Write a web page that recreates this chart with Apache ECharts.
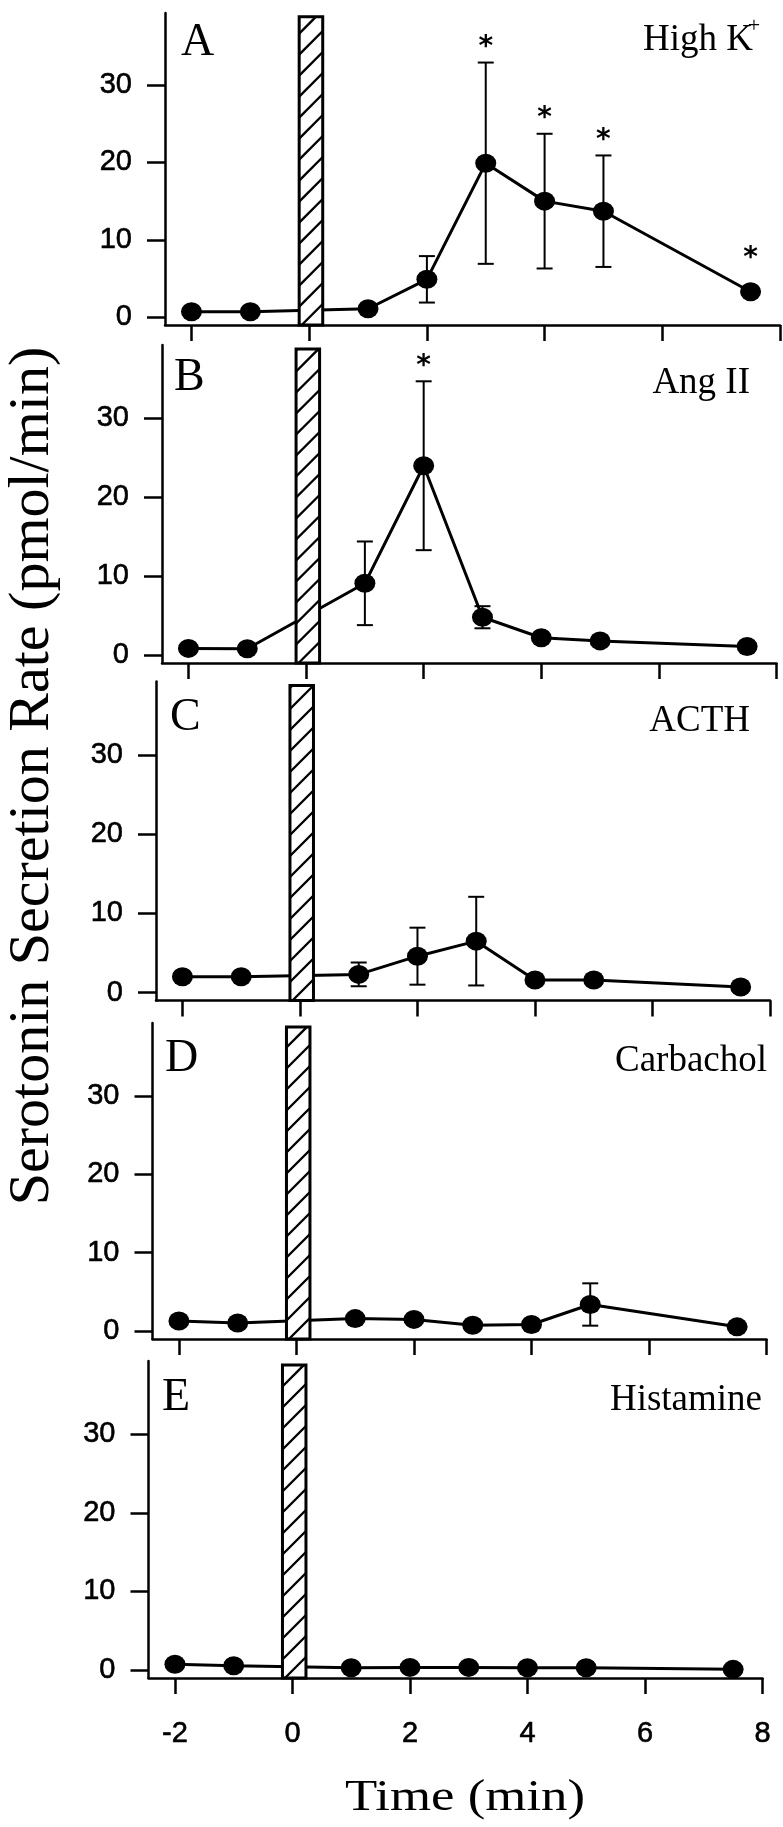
<!DOCTYPE html>
<html>
<head>
<meta charset="utf-8">
<script src="https://cdn.jsdelivr.net/npm/echarts@6/dist/echarts.min.js"></script>
<style>
  html, body { margin: 0; padding: 0; background: #fff; }
  #main { width: 783px; height: 1827px; }
</style>
</head>
<body>
<div id="main"></div>
<script>
// sampling times (min)
var times = [-2, -1, 1, 2, 3, 4, 5, 7.5];

// stimulus pulse, drawn as the hatched bar
var pulseSpan = [-0.17, 0.23];
var pulseTop = 38.8;

// serotonin secretion rate (pmol/min), mean and SE
var highKMean = [0.7, 0.7, 1.1, 4.9, 19.9, 15.0, 13.7, 3.3];
var highKErr  = [0, 0, 0, 3.0, 13.0, 8.7, 7.2, 0];
var highKSig  = [0, 0, 0, 0, 1, 1, 1, 1];

var angMean = [0.85, 0.8, 9.1, 24.0, 4.8, 2.2, 1.8, 1.1];
var angErr  = [0, 0, 5.3, 10.7, 1.4, 0, 0, 0];
var angSig  = [0, 0, 0, 1, 0, 0, 0, 0];

var acthMean = [2.0, 2.0, 2.3, 4.6, 6.5, 1.6, 1.6, 0.7];
var acthErr  = [0, 0, 1.5, 3.6, 5.6, 0, 0, 0];
var acthSig  = [0, 0, 0, 0, 0, 0, 0, 0];

var carbMean = [1.3, 1.05, 1.6, 1.5, 0.75, 0.85, 3.4, 0.55];
var carbErr  = [0, 0, 0, 0, 0, 0, 2.7, 0];
var carbSig  = [0, 0, 0, 0, 0, 0, 0, 0];

var histMean = [0.75, 0.55, 0.3, 0.35, 0.35, 0.3, 0.3, 0.1];
var histErr  = [0, 0, 0, 0, 0, 0, 0, 0];
var histSig  = [0, 0, 0, 0, 0, 0, 0, 0];

var panelLetters = ['A', 'B', 'C', 'D', 'E'];
var panelNames = ['High K', 'Ang II', 'ACTH', 'Carbachol', 'Histamine'];
var panelSup = ['+', '', '', '', ''];

var yTicks = [0, 10, 20, 30];
var xTicks = [-2, 0, 2, 4, 6, 8];

var panels = [
  { mean: highKMean, err: highKErr, sig: highKSig },
  { mean: angMean, err: angErr, sig: angSig },
  { mean: acthMean, err: acthErr, sig: acthSig },
  { mean: carbMean, err: carbErr, sig: carbSig },
  { mean: histMean, err: histErr, sig: histSig }
];

// plot frames in px (the scanned figure is a little skewed)
var frames = [
  { left: 165, top: 13, width: 615, height: 312 },
  { left: 162, top: 345, width: 614.5, height: 318 },
  { left: 156, top: 681.5, width: 614, height: 319 },
  { left: 152.5, top: 1023, width: 614, height: 316 },
  { left: 148.5, top: 1361, width: 614, height: 317 }
];
var letterPos = [[181, 43], [174, 378], [170, 718], [165, 1059], [162, 1398]];
var namePos = [[753, 40], [750, 383], [750, 721], [767, 1061], [762, 1400]];

var yMin = -1, yMax = 39.3, xMin = -2.45, xMax = 8;
var black = '#000';

var myChart = echarts.init(document.getElementById('main'));

function renderPulse(params, api) {
  var a = api.coord([api.value(0), api.value(2)]);
  var b = api.coord([api.value(1), yMin]);
  var x0 = a[0], x1 = b[0], yt = a[1], yb = b[1];
  var w = x1 - x0, step = 21;
  var children = [{
    type: 'rect',
    shape: { x: x0, y: yt, width: w, height: yb - yt },
    style: { fill: '#fff', stroke: black, lineWidth: 3 }
  }];
  // 45 degree hatching, clipped by hand to the bar
  for (var c = yb + w; c > yt; c -= step) {
    var xa = x0, ya = c, xb = x1, yb2 = c - w;
    if (ya > yb) { xa = x0 + (ya - yb); ya = yb; }
    if (yb2 < yt) { xb = x1 - (yt - yb2); yb2 = yt; }
    if (xb - xa < 1) continue;
    children.push({
      type: 'line',
      shape: { x1: xa, y1: ya, x2: xb, y2: yb2 },
      style: { stroke: black, lineWidth: 2.4 }
    });
  }
  return { type: 'group', children: children };
}

function renderErr(params, api) {
  var t = api.value(0), m = api.value(1), e = api.value(2);
  var hi = api.coord([t, m + e]);
  var lo = api.coord([t, m - e]);
  var hw = 8;
  var st = { stroke: black, lineWidth: 2 };
  return {
    type: 'group',
    children: [
      { type: 'line', shape: { x1: hi[0], y1: hi[1], x2: lo[0], y2: lo[1] }, style: st },
      { type: 'line', shape: { x1: hi[0] - hw, y1: hi[1], x2: hi[0] + hw, y2: hi[1] }, style: st },
      { type: 'line', shape: { x1: lo[0] - hw, y1: lo[1], x2: lo[0] + hw, y2: lo[1] }, style: st }
    ]
  };
}

function renderStar(params, api) {
  // star sits above the error cap, or above the marker if there is no bar
  var top = api.coord([api.value(0), api.value(1)]);
  var mid = api.coord([api.value(0), api.value(2)]);
  var y = Math.min(top[1], mid[1] - 18);
  return {
    type: 'text',
    x: top[0],
    y: y - 15,
    style: {
      text: '*',
      fontFamily: 'DejaVu Sans',
      fontWeight: 'bold',
      fontSize: 28,
      fill: black,
      align: 'center',
      verticalAlign: 'middle'
    }
  };
}

var tickFont = {
  fontFamily: 'Liberation Sans', fontSize: 29, color: black,
  textBorderColor: black, textBorderWidth: 0.6
};

var grids = [], xAxes = [], yAxes = [], series = [], graphics = [];

panels.forEach(function (pn, i) {
  var f = frames[i];
  grids.push({
    left: f.left, top: f.top, width: f.width, height: f.height,
    outerBoundsMode: 'none'
  });

  xAxes.push({
    type: 'value', gridIndex: i, min: xMin, max: xMax,
    axisLine: { show: true, onZero: false, lineStyle: { color: black, width: 2.5 } },
    axisTick: { show: true, length: 16, customValues: xTicks, lineStyle: { color: black, width: 2.5 } },
    axisLabel: Object.assign({
      show: i === panels.length - 1, customValues: xTicks, margin: 41
    }, tickFont),
    splitLine: { show: false }
  });

  yAxes.push({
    type: 'value', gridIndex: i, min: yMin, max: yMax,
    axisLine: { show: true, onZero: false, lineStyle: { color: black, width: 2.5 } },
    axisTick: { show: true, length: 18, customValues: yTicks, lineStyle: { color: black, width: 2.5 } },
    axisLabel: Object.assign({ customValues: yTicks, margin: 33 }, tickFont),
    splitLine: { show: false }
  });

  var pts = times.map(function (t, k) { return [t, pn.mean[k]]; });
  var errs = [], stars = [];
  times.forEach(function (t, k) {
    if (pn.err[k] > 0) errs.push([t, pn.mean[k], pn.err[k]]);
    if (pn.sig[k]) stars.push([t, pn.mean[k] + pn.err[k], pn.mean[k]]);
  });

  series.push({
    type: 'custom', xAxisIndex: i, yAxisIndex: i, z: 1,
    renderItem: renderErr, data: errs,
    encode: { x: 0, y: [1, 2] }
  });
  series.push({
    type: 'line', xAxisIndex: i, yAxisIndex: i, z: 2,
    data: pts,
    symbol: 'circle', symbolSize: [21, 19],
    lineStyle: { color: black, width: 3 },
    itemStyle: { color: black }
  });
  series.push({
    type: 'custom', xAxisIndex: i, yAxisIndex: i, z: 4,
    renderItem: renderPulse,
    data: [[pulseSpan[0], pulseSpan[1], pulseTop]],
    encode: { x: [0, 1], y: 2 }
  });
  series.push({
    type: 'custom', xAxisIndex: i, yAxisIndex: i, z: 3,
    renderItem: renderStar, data: stars,
    encode: { x: 0, y: [1, 2] }
  });

  graphics.push({
    type: 'text', x: letterPos[i][0], y: letterPos[i][1],
    style: {
      text: panelLetters[i], fontFamily: 'Liberation Serif', fontSize: 46,
      fill: black, align: 'left', verticalAlign: 'middle'
    }
  });
  graphics.push({
    type: 'text', x: namePos[i][0], y: namePos[i][1],
    style: {
      text: panelNames[i], fontFamily: 'Liberation Serif', fontSize: 37,
      fill: black, align: 'right', verticalAlign: 'middle'
    }
  });
  if (panelSup[i]) {
    graphics.push({
      type: 'text', x: namePos[i][0] + 1, y: namePos[i][1] - 14,
      style: {
        text: panelSup[i], fontFamily: 'Liberation Serif', fontSize: 22,
        fill: black, align: 'center', verticalAlign: 'middle'
      }
    });
  }
});

// shared axis titles
graphics.push({
  type: 'text', x: 33, y: 776, rotation: Math.PI / 2,
  style: {
    text: 'Serotonin Secretion Rate (pmol/min)', fontFamily: 'Liberation Serif',
    fontSize: 58, fill: black, align: 'center', verticalAlign: 'middle'
  }
});
graphics.push({
  type: 'text', x: 465, y: 1798, scaleX: 1.2,
  style: {
    text: 'Time (min)', fontFamily: 'Liberation Serif',
    fontSize: 44, fill: black, align: 'center', verticalAlign: 'middle'
  }
});

var option = {
  animation: false,
  backgroundColor: '#fff',
  grid: grids,
  xAxis: xAxes,
  yAxis: yAxes,
  series: series,
  graphic: graphics
};

myChart.setOption(option);
</script>
</body>
</html>
